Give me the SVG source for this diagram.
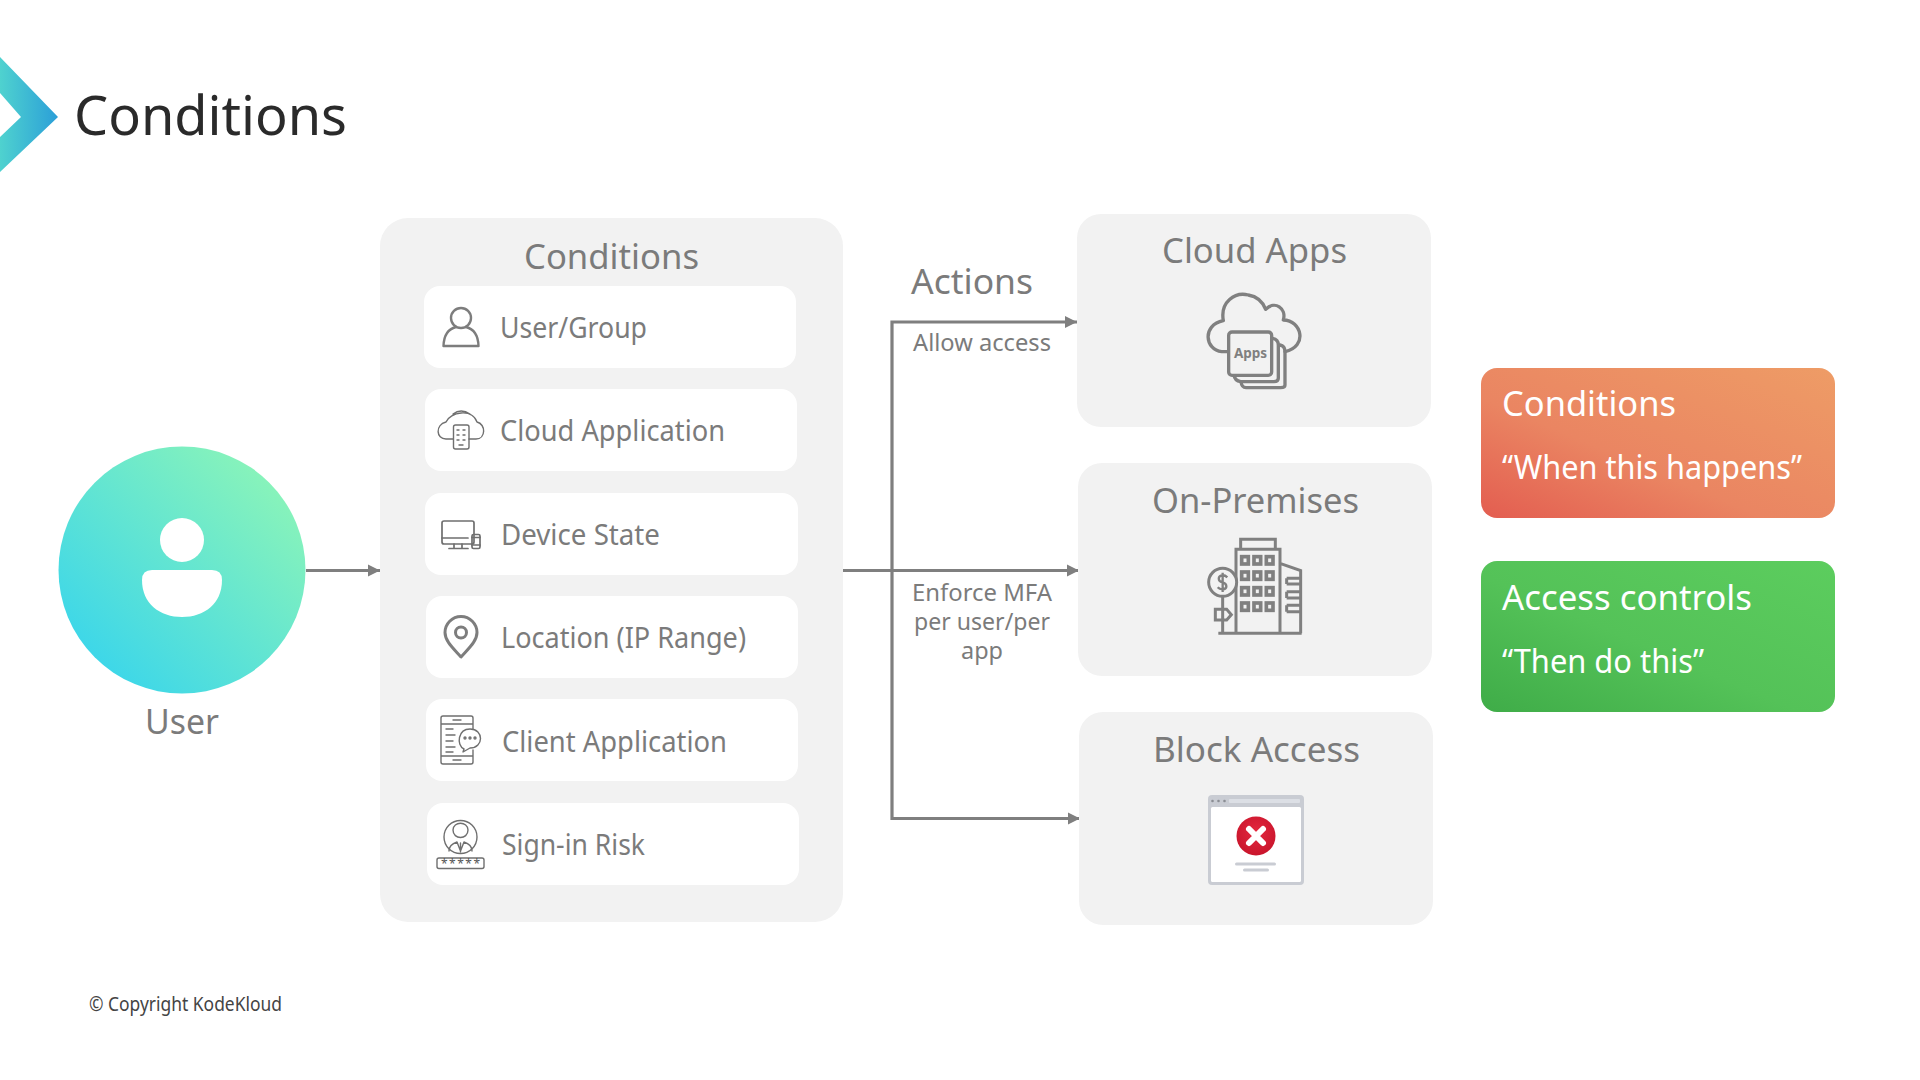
<svg xmlns="http://www.w3.org/2000/svg" width="1920" height="1080" viewBox="0 0 1920 1080">
<style>
text{font-family:"Noto Sans","Open Sans","DejaVu Sans",sans-serif;fill:#7b7b7b}
.title{font-size:55px;fill:#2a2a2a}
.head{font-size:35px}
.row{font-size:29px}
.lab{font-size:24px}
.w{fill:#fff;font-size:34px}
.w2{fill:#fff;font-size:32px}
.panel{fill:#f2f2f2}
.rowbox{fill:#fff}
.ic{fill:none;stroke:#7d7d7d;stroke-width:2.400;stroke-linejoin:round;stroke-linecap:round}
.thin{fill:none;stroke:#6f6f6f;stroke-width:1.400;stroke-linejoin:round;stroke-linecap:round}
.con{fill:none;stroke:#7f7f7f;stroke-width:3.200;marker-end:url(#arr)}
</style>
<defs>
<marker id="arr" markerUnits="userSpaceOnUse" markerWidth="13" markerHeight="14" refX="12" refY="7" orient="auto"><path d="M0 1L12 7L0 13Z" fill="#7f7f7f"/></marker>
<linearGradient id="chev" x1="0" y1="0" x2="1" y2="0"><stop offset="0" stop-color="#4fd2cf"/><stop offset="1" stop-color="#2b9fd8"/></linearGradient>
<linearGradient id="circ" x1="0.12" y1="0.88" x2="0.88" y2="0.12"><stop offset="0" stop-color="#3bd6ea"/><stop offset="1" stop-color="#8af4b9"/></linearGradient>
<linearGradient id="or" x1="0" y1="1" x2="1" y2="0"><stop offset="0" stop-color="#e35d50"/><stop offset="0.4" stop-color="#ea8562"/><stop offset="1" stop-color="#ee9c66"/></linearGradient>
<linearGradient id="gr" x1="0" y1="1" x2="1" y2="0"><stop offset="0" stop-color="#3fac48"/><stop offset="0.45" stop-color="#54c258"/><stop offset="1" stop-color="#5ccd5e"/></linearGradient>
<radialGradient id="red" cx="0.5" cy="0.4" r="0.6"><stop offset="0" stop-color="#e4283f"/><stop offset="1" stop-color="#c9152c"/></radialGradient>
</defs>
<rect width="1920" height="1080" fill="#fff"/>
<g id="header">
<polygon points="0,57 58,117 0,172 0,137 21,117 0,93" fill="url(#chev)"/>
<text class="title" x="74" y="135" textLength="273" lengthAdjust="spacingAndGlyphs">Conditions</text>
</g>
<g id="user">
<circle cx="182" cy="570" r="123.500" fill="url(#circ)"/>
<circle cx="182" cy="540" r="22" fill="#fff"/>
<path d="M152 570H212Q222 570 222 580C222 604 204 617 182 617C160 617 142 604 142 580Q142 570 152 570Z" fill="#fff"/>
<text class="head" x="145" y="734" textLength="74" lengthAdjust="spacingAndGlyphs">User</text>
</g>
<g id="conditions-panel">
<rect class="panel" x="380" y="218" width="463" height="704" rx="28"/>
<text class="head" x="524" y="269" textLength="175" lengthAdjust="spacingAndGlyphs">Conditions</text>
</g>
<g id="row-user-group">
<rect class="rowbox" x="424" y="286" width="372" height="82" rx="16"/>
<g class="ic"><circle cx="461" cy="318" r="10"/><path d="M443.500 346Q444 330 456 327M466 327Q478 330 478.500 346H443.500"/></g>
<text class="row" x="500" y="338" textLength="147" lengthAdjust="spacingAndGlyphs">User/Group</text>
</g>
<g id="row-cloud-application">
<rect class="rowbox" x="425" y="389" width="372" height="82" rx="16"/>
<g class="thin"><path d="M453 439H446C436 439 435 425 446 422C450 412 472 408 477 422C486 424 486 439 476 439H469M453 414Q461 408 470 414"/><rect x="453.500" y="425" width="15.500" height="24" rx="2"/><path d="M457 430h2M463 430h2M457 435h2M463 435h2M457 440h2M463 440h2M459 445h4"/></g>
<text class="row" x="500" y="441" textLength="225" lengthAdjust="spacingAndGlyphs">Cloud Application</text>
</g>
<g id="row-device-state">
<rect class="rowbox" x="425" y="493" width="373" height="82" rx="16"/>
<g class="thin" style="stroke-width:1.700"><rect x="442" y="521" width="32" height="23" rx="2"/><path d="M442 538H468M454 544V548M462 544V548M449 548.500H468"/><rect x="472" y="534.500" width="8" height="14" rx="1.500"/><path d="M472 537.500h8M472 545h8"/></g>
<text class="row" x="501" y="545" textLength="159" lengthAdjust="spacingAndGlyphs">Device State</text>
</g>
<g id="row-location">
<rect class="rowbox" x="426" y="596" width="372" height="82" rx="16"/>
<g class="ic" style="stroke-width:3"><path d="M461 657C453 648 445 641 445 632.500A16 16 0 0 1 477 632.500C477 641 469 648 461 657Z"/><circle cx="461" cy="632.500" r="5.500"/></g>
<text class="row" x="501" y="648" textLength="245" lengthAdjust="spacingAndGlyphs">Location (IP Range)</text>
</g>
<g id="row-client-application">
<rect class="rowbox" x="426" y="699" width="372" height="82" rx="16"/>
<g class="thin"><path d="M473 730V718Q473 716 471 716H443Q441 716 441 718V762Q441 764 443 764H471Q473 764 473 762V750M441 724H473M441 756H473M453 720h8M453 760h8M446 729h7M446 735h9M446 741h7M446 747h9M446 752h7"/><path d="M464 749C456 745 458 729 470 729C484 729 484 748 470 748L463 752Z" fill="#fff"/><circle cx="465" cy="738" r="1"/><circle cx="470" cy="738" r="1"/><circle cx="475" cy="738" r="1"/></g>
<text class="row" x="502" y="752" textLength="225" lengthAdjust="spacingAndGlyphs">Client Application</text>
</g>
<g id="row-sign-in-risk">
<rect class="rowbox" x="427" y="803" width="372" height="82" rx="16"/>
<g class="thin"><circle cx="460.500" cy="837" r="16.500"/><path d="M453 830C453 821 468 821 468 830C468 840 453 840 453 830ZM449 851C449 845 454 843 457 842L460.500 851L464 842C467 843 472 845 472 851M460.500 843V852"/><rect x="437" y="858" width="47" height="10.500" rx="2"/></g>
<text x="441" y="867.500" style="font-size:12px;fill:#555" textLength="39">*****</text>
<text class="row" x="502" y="855" textLength="143" lengthAdjust="spacingAndGlyphs">Sign-in Risk</text>
</g>
<g id="connectors">
<path class="con" d="M306 570.500H380"/>
<path class="con" d="M892 570.500V322H1077"/>
<path class="con" d="M843 570.500H1079"/>
<path class="con" d="M892 570.500V818.500H1080"/>
</g>
<g id="actions-labels">
<text class="head" x="911" y="294" textLength="122" lengthAdjust="spacingAndGlyphs">Actions</text>
<text class="lab" x="913" y="351" textLength="138" lengthAdjust="spacingAndGlyphs">Allow access</text>
<text class="lab" x="912" y="601" textLength="140" lengthAdjust="spacingAndGlyphs">Enforce MFA</text>
<text class="lab" x="914" y="630" textLength="136" lengthAdjust="spacingAndGlyphs">per user/per</text>
<text class="lab" x="961" y="659" textLength="42" lengthAdjust="spacingAndGlyphs">app</text>
</g>
<g id="cloud-apps">
<rect class="panel" x="1077" y="214" width="354" height="213" rx="24"/>
<text class="head" x="1162" y="263" textLength="185" lengthAdjust="spacingAndGlyphs">Cloud Apps</text>
<g transform="translate(1170 270) scale(.3333)" fill="none" stroke="#808080" stroke-width="10" stroke-linejoin="round" stroke-linecap="round">
<path d="M175 245H155C105 240 95 165 160 152C150 95 195 65 235 75C265 80 280 100 287 118C315 90 350 115 340 150C395 150 415 230 345 245"/>
<path d="M308 205Q325 208 325 225V325Q325 335 312 335H212"/>
<path d="M330 225Q345 228 345 245V345Q345 353 332 353H228Q215 353 213 335"/>
<path d="M192 315Q194 332 212 335"/>
<rect x="176" y="186" width="129" height="130" rx="10" fill="#f2f2f2"/>
</g>
<text x="1250.500" y="357.500" style="font-size:13.500px;font-weight:700;fill:#808080" text-anchor="middle">Apps</text>
</g>
<g id="on-premises">
<rect class="panel" x="1078" y="463" width="354" height="213" rx="24"/>
<text class="head" x="1152" y="513" textLength="207" lengthAdjust="spacingAndGlyphs">On-Premises</text>
<g transform="translate(1170 520) scale(.3333)" fill="none" stroke="#808080" stroke-width="9" stroke-linejoin="miter">
<path d="M145 340H395M198 340V88H330V340M212 88V58H316V88M330 130L392 152V340"/>
<path d="M350 175H390M350 192H390M350 175V192M350 215H390M350 234H390M350 215V234M350 256H390M350 275H390M350 256V275"/>
<g stroke-width="11"><rect x="215" y="110" width="20" height="22"/><rect x="252" y="110" width="20" height="22"/><rect x="289" y="110" width="20" height="22"/><rect x="215" y="156" width="20" height="22"/><rect x="252" y="156" width="20" height="22"/><rect x="289" y="156" width="20" height="22"/><rect x="215" y="203" width="20" height="22"/><rect x="252" y="203" width="20" height="22"/><rect x="289" y="203" width="20" height="22"/><rect x="215" y="249" width="20" height="22"/><rect x="252" y="249" width="20" height="22"/><rect x="289" y="249" width="20" height="22"/></g>
<circle cx="158" cy="187" r="42" fill="#f2f2f2"/>
<path d="M158 229V340M136 268H170L184 284L170 300H136Z" fill="#f2f2f2"/>
<path d="M172 172Q165 165 156 166C143 168 143 184 157 187C173 191 173 207 158 208Q148 208 143 202M158 158V216" stroke-width="7"/>
</g>
</g>
<g id="block-access">
<rect class="panel" x="1079" y="712" width="354" height="213" rx="24"/>
<text class="head" x="1153" y="762" textLength="207" lengthAdjust="spacingAndGlyphs">Block Access</text>
<rect x="1208" y="795" width="96" height="90" rx="4" fill="#c9ccd3"/>
<rect x="1211" y="807" width="90" height="75" rx="1.500" fill="#fff"/>
<rect x="1229" y="799" width="71" height="4" rx="1" fill="#dcdfe5"/>
<circle cx="1212.500" cy="801" r="1.300" fill="#8a8d94"/><circle cx="1218.500" cy="801" r="1.300" fill="#8a8d94"/><circle cx="1224.500" cy="801" r="1.300" fill="#8a8d94"/>
<circle cx="1256" cy="836" r="19.500" fill="url(#red)"/>
<path d="M1249 829L1263 843M1263 829L1249 843" stroke="#fff" stroke-width="6" stroke-linecap="round"/>
<rect x="1235" y="862.500" width="41" height="3" rx="1.500" fill="#c9ccd3"/>
<rect x="1243" y="868.500" width="26" height="3" rx="1.500" fill="#c9ccd3"/>
</g>
<g id="legend-conditions">
<rect x="1481" y="368" width="354" height="150" rx="16" fill="url(#or)"/>
<text class="w" x="1502" y="416" textLength="174" lengthAdjust="spacingAndGlyphs">Conditions</text>
<text class="w2" x="1502" y="479" textLength="300" lengthAdjust="spacingAndGlyphs">“When this happens”</text>
</g>
<g id="legend-access-controls">
<rect x="1481" y="561" width="354" height="151" rx="16" fill="url(#gr)"/>
<text class="w" x="1502" y="610" textLength="250" lengthAdjust="spacingAndGlyphs">Access controls</text>
<text class="w2" x="1502" y="673" textLength="202" lengthAdjust="spacingAndGlyphs">“Then do this”</text>
</g>
<text x="89" y="1011" style="font-size:19px;fill:#444" textLength="193" lengthAdjust="spacingAndGlyphs">© Copyright KodeKloud</text>
</svg>
